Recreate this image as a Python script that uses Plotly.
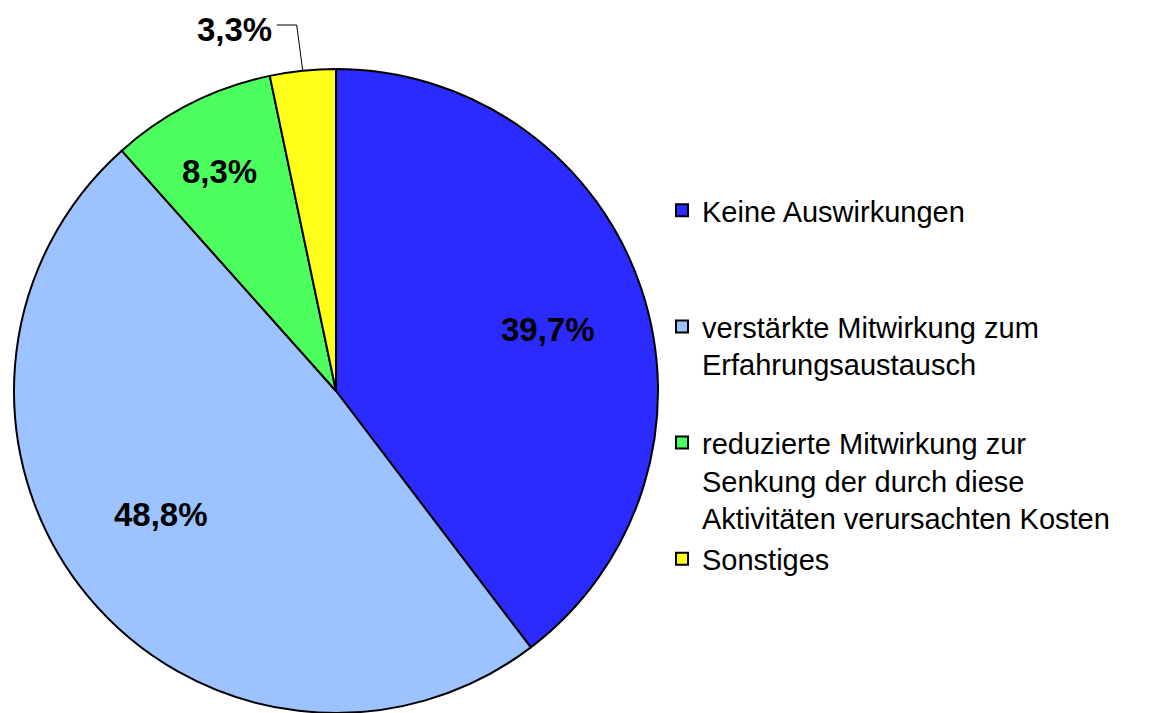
import math
import plotly.graph_objects as go

labels = [
    "Keine Auswirkungen",
    "verstärkte Mitwirkung zum<br>Erfahrungsaustausch",
    "reduzierte Mitwirkung zur<br>Senkung der durch diese<br>Aktivitäten verursachten Kosten",
    "Sonstiges",
]
# trailing blank lines emulate the reference's uneven legend spacing
legend_pad = ["<br> <br> ", "<br> ", "", ""]
values = [39.7, 48.8, 8.3, 3.3]
colors = ["#2b2bff", "#9cc3ff", "#4dff5e", "#ffff1a"]
# label placement (layout): radius fraction and angular nudge in degrees; None -> outside label
label_radius = [0.685, 0.666, 0.771, None]
label_nudge = [2.5, 4.2, -1.2, 0.0]

W, H = 1152, 713
OFF = 8  # page body margin offset of the figure
CX, CY, R = 336, 391, 322  # page coordinates of the pie

def fmt(v):
    return f"{v:.1f}%".replace(".", ",")

def to_paper(px, py):
    return (px - OFF) / W, 1 - (py - OFF) / H

x0, y0 = to_paper(CX - R, CY + R)
x1, y1 = to_paper(CX + R, CY - R)

fig = go.Figure(go.Pie(
    labels=[l + p for l, p in zip(labels, legend_pad)],
    values=values,
    sort=False,
    direction="clockwise",
    rotation=0,
    textinfo="none",
    hoverinfo="label+percent",
    marker=dict(colors=colors, line=dict(color="black", width=2)),
    domain=dict(x=[x0, x1], y=[y0, y1]),
))

LABEL_FONT = dict(family="Liberation Sans, Arial", size=33, color="black")

total = sum(values)
cum = 0.0
annotations = []
shapes = []
for v, rf, nd in zip(values, label_radius, label_nudge):
    mid = (cum + v / 2) / total * 2 * math.pi
    cum += v
    if rf is not None:
        a = mid + math.radians(nd)
        px, py = CX + rf * R * math.sin(a), CY - rf * R * math.cos(a)
        x, y = to_paper(px, py)
        annotations.append(dict(x=x, y=y, xref="paper", yref="paper", xanchor="center", yanchor="middle",
                                text=f"<b>{fmt(v)}</b>", showarrow=False, font=LABEL_FONT))
    else:
        ax, ay = CX + R * math.sin(mid), CY - R * math.cos(mid)
        ey = 25
        ex = ax - 6
        bx = ax - 26
        p0 = to_paper(bx, ey); p1 = to_paper(ex, ey); p2 = to_paper(ax, ay)
        shapes.append(dict(type="path", xref="paper", yref="paper",
                           path=f"M {p0[0]},{p0[1]} L {p1[0]},{p1[1]} L {p2[0]},{p2[1]}",
                           line=dict(color="black", width=1)))
        tx, ty = to_paper(bx - 3, ey + 4)
        annotations.append(dict(x=tx, y=ty, xref="paper", yref="paper", xanchor="right", yanchor="middle",
                                text=f"<b>{fmt(v)}</b>", showarrow=False, font=LABEL_FONT))

lx, ly = to_paper(662, 185)

fig.update_layout(
    width=W, height=H,
    margin=dict(l=0, r=0, t=0, b=0),
    paper_bgcolor="white",
    plot_bgcolor="white",
    annotations=annotations,
    shapes=shapes,
    showlegend=True,
    legend=dict(
        x=lx, xanchor="left",
        y=ly, yanchor="top",
        font=dict(family="Liberation Sans, Arial", size=29, color="black"),
        valign="top",
        bgcolor="rgba(0,0,0,0)",
        tracegroupgap=0,
    ),
)

fig.write_html("out.html")
